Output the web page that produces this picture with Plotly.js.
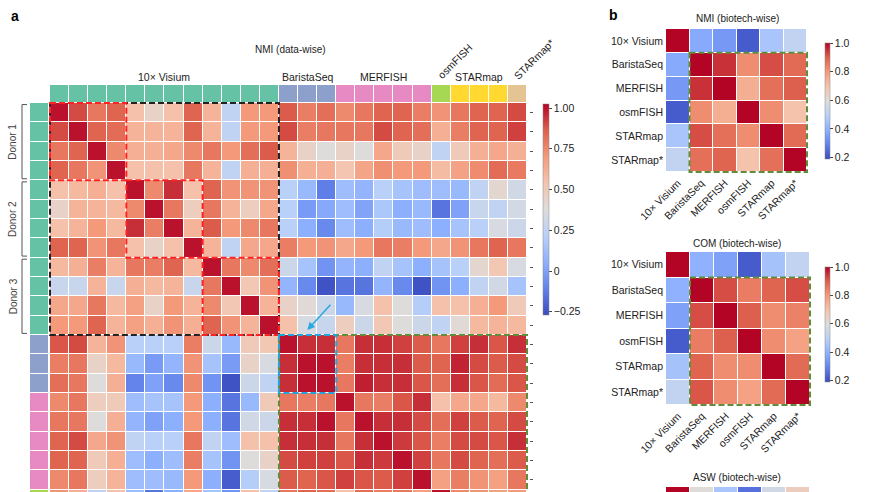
<!DOCTYPE html>
<html><head><meta charset="utf-8">
<script src="https://cdn.plot.ly/plotly-3.0.1.min.js"></script>
<style>html,body{margin:0;padding:0;background:#fff}#chart{width:870px;height:492px}</style>
</head><body><div id="chart"></div>
<script>
// ---------- DATA ----------
const techs = ['10× Visium','BaristaSeq','MERFISH','osmFISH','STARmap','STARmap*'];
const techColors = ['#66c2a5','#8da0cb','#e78ac3','#a6d854','#ffd92f','#e5c494'];
// technology index of each sample (columns of panel a)
const colTech = [0,0,0,0,0,0,0,0,0,0,0,0, 1,1,1, 2,2,2,2,2, 3, 4,4,4, 5];
// rows visible in panel a (the figure is cut at the bottom)
const rowTech = [0,0,0,0,0,0,0,0,0,0,0,0, 1,1,1, 2,2,2,2,2, 3];
const donors = ['Donor 1','Donor 2','Donor 3'];
const groupLabels = ['10× Visium','BaristaSeq','MERFISH','STARmap'];
const groupCenters = [5.5, 13, 17, 22];

const nmiDataWise = [
 [1.00,0.90,0.80,0.85,0.55,0.45,0.55,0.85,0.60,0.25,0.70,0.70, 0.87,0.78,0.82,0.75,0.80,0.85,0.85,0.78,0.72,0.80,0.85,0.85,0.90],
 [0.90,1.00,0.85,0.83,0.60,0.60,0.60,0.85,0.60,0.25,0.70,0.70, 0.90,0.78,0.80,0.80,0.80,0.90,0.85,0.82,0.62,0.78,0.85,0.85,0.92],
 [0.80,0.85,1.00,0.75,0.62,0.62,0.65,0.75,0.80,0.70,0.82,0.87, 0.60,0.45,0.38,0.45,0.38,0.65,0.50,0.45,0.25,0.50,0.62,0.65,0.62],
 [0.85,0.80,0.72,1.00,0.55,0.55,0.55,0.80,0.60,0.25,0.62,0.62, 0.73,0.62,0.62,0.53,0.66,0.73,0.70,0.70,0.57,0.67,0.74,0.83,0.79],
 [0.55,0.58,0.62,0.55,1.00,0.75,0.95,0.55,0.85,0.72,0.72,0.72, 0.22,0.10,-0.12,0.12,0.08,0.22,0.15,0.12,0.12,0.10,0.25,0.42,0.32],
 [0.45,0.60,0.60,0.58,0.75,1.00,0.80,0.48,0.80,0.60,0.48,0.65, 0.22,-0.02,0.03,0.12,0.01,0.17,0.05,0.10,-0.15,0.00,0.28,0.25,0.33],
 [0.55,0.60,0.70,0.58,0.95,0.78,1.00,0.60,0.87,0.70,0.75,0.80, 0.22,0.05,-0.08,0.12,0.05,0.20,0.10,0.12,0.05,0.15,0.22,0.35,0.30],
 [0.85,0.85,0.72,0.80,0.55,0.45,0.55,1.00,0.60,0.25,0.65,0.65, 0.78,0.70,0.72,0.65,0.70,0.80,0.78,0.70,0.65,0.72,0.80,0.85,0.80],
 [0.58,0.62,0.78,0.60,0.80,0.78,0.85,0.58,1.00,0.80,0.75,0.82, 0.30,0.15,-0.05,0.08,0.05,0.25,0.15,0.05,0.15,0.22,0.42,0.52,0.35],
 [0.28,0.28,0.60,0.28,0.62,0.58,0.60,0.28,0.80,1.00,0.52,0.72, 0.08,-0.08,-0.25,-0.15,-0.15,0.08,-0.08,-0.25,-0.05,0.05,0.25,0.32,0.15],
 [0.65,0.65,0.80,0.58,0.68,0.45,0.70,0.60,0.75,0.52,1.00,0.60, 0.45,0.40,0.30,0.10,0.35,0.55,0.38,0.20,0.55,0.55,0.62,0.70,0.50],
 [0.70,0.70,0.85,0.60,0.68,0.62,0.72,0.62,0.85,0.72,0.60,1.00, 0.55,0.35,0.28,0.48,0.30,0.52,0.38,0.30,0.25,0.40,0.58,0.60,0.58],
 [0.88,0.90,0.60,0.72,0.22,0.22,0.22,0.78,0.30,0.10,0.50,0.52, 1.00,0.95,0.95,0.80,0.95,0.95,0.92,0.87,0.80,0.92,0.95,0.88,0.95],
 [0.78,0.80,0.45,0.58,0.10,-0.02,0.08,0.72,0.15,-0.02,0.45,0.35, 0.95,1.00,1.00,0.78,0.95,0.95,0.95,0.87,0.85,0.97,0.90,0.87,0.90],
 [0.82,0.80,0.38,0.62,-0.10,0.00,-0.08,0.75,-0.05,-0.25,0.30,0.25, 0.95,1.00,1.00,0.80,0.98,0.95,0.95,0.88,0.82,0.95,0.88,0.83,0.88],
 [0.75,0.80,0.48,0.50,0.12,0.15,0.15,0.70,0.05,-0.15,0.10,0.50, 0.80,0.78,0.80,1.00,0.80,0.78,0.88,0.95,0.55,0.65,0.65,0.58,0.75],
 [0.80,0.80,0.38,0.62,0.08,0.00,0.05,0.70,0.05,-0.15,0.32,0.30, 0.95,0.95,1.00,0.80,1.00,0.95,0.95,0.90,0.82,0.92,0.87,0.85,0.90],
 [0.85,0.90,0.65,0.72,0.25,0.22,0.22,0.80,0.25,0.12,0.55,0.55, 0.95,0.95,0.95,0.80,0.95,1.00,0.93,0.88,0.78,0.90,0.90,0.88,0.95],
 [0.85,0.85,0.50,0.62,0.12,0.05,0.12,0.78,0.15,-0.05,0.38,0.45, 0.90,0.92,0.92,0.88,0.95,0.93,1.00,0.92,0.80,0.90,0.85,0.82,0.87],
 [0.75,0.80,0.48,0.60,0.12,0.12,0.10,0.70,0.05,-0.22,0.20,0.35, 0.87,0.85,0.88,0.92,0.88,0.87,0.92,1.00,0.68,0.78,0.72,0.68,0.80],
 [0.72,0.62,0.25,0.55,0.12,-0.15,0.05,0.65,0.15,-0.05,0.55,0.25, 0.80,0.85,0.82,0.55,0.82,0.78,0.80,0.68,1.00,0.75,0.72,0.68,0.70]
];

const nmiBiotech = [
 [1.00,0.38,0.34,0.22,0.46,0.52],
 [0.38,1.00,0.95,0.82,0.92,0.88],
 [0.34,0.95,1.00,0.75,0.87,0.90],
 [0.22,0.82,0.75,1.00,0.82,0.70],
 [0.46,0.92,0.87,0.82,1.00,0.88],
 [0.52,0.87,0.89,0.70,0.87,1.00]
];
const comBiotech = [
 [1.00,0.40,0.36,0.22,0.45,0.52],
 [0.40,1.00,0.92,0.85,0.89,0.92],
 [0.36,0.92,1.00,0.90,0.82,0.84],
 [0.22,0.85,0.90,1.00,0.82,0.78],
 [0.45,0.89,0.82,0.82,1.00,0.88],
 [0.52,0.91,0.82,0.78,0.88,1.00]
];
const aswBiotechTopRow = [1.00,0.60,0.46,0.26,0.56,0.66];

// ---------- STYLE ----------
const W = 870, H = 492;
const px = v => v / W, py = v => 1 - v / H;
const FONT = 'Liberation Sans, Arial, Helvetica, sans-serif';
const coolwarm = [[0,'#3b4cc0'],[0.125,'#6282ea'],[0.25,'#8db0fe'],[0.375,'#b8d0f9'],[0.5,'#dddcdb'],[0.625,'#f5c4ad'],[0.75,'#f49a7b'],[0.875,'#de604d'],[1,'#b40426']];
const catScale = [];
techColors.forEach((c,i)=>{ const a=Math.max(0,(i-0.5)/5), b=Math.min(1,(i+0.5)/5); catScale.push([a,c]); catScale.push([b,c]); });

const idx = n => Array.from({length:n},(_,i)=>i);
const nCols = colTech.length, nRows = rowTech.length;

// main geometry (cell size in px)
const cw = 19.08, ch = 19.33, x0px = 50, y0px = 103;
const mainXRange = [(48-x0px)/cw-0.5, (529-x0px)/cw-0.5];
const mainYRange = [(492-y0px)/ch-0.5, (101-y0px)/ch-0.5];

const hidden = {showgrid:false, zeroline:false, showticklabels:false, ticks:'', showline:false, fixedrange:true};

const traces = [
 {type:'heatmap', z:nmiDataWise, x:idx(nCols), y:idx(nRows), xaxis:'x', yaxis:'y',
  colorscale:coolwarm, zmin:-0.27, zmax:1.025, xgap:1, ygap:1, hoverinfo:'skip',
  colorbar:{x:px(543), xanchor:'left', y:py(104), yanchor:'top', len:211, lenmode:'pixels',
    thickness:6, xpad:0, ypad:0, outlinewidth:0.5, outlinecolor:'#888',
    tickvals:[1,0.75,0.5,0.25,0,-0.25], ticktext:['1.00','0.75','0.50','0.25','0','−0.25'],
    ticks:'outside', ticklen:3, tickcolor:'#444', tickfont:{size:10.5, color:'#222', family:FONT}}},
 {type:'heatmap', z:[colTech], x:idx(nCols), y:[0], xaxis:'x2', yaxis:'y2',
  colorscale:catScale, zmin:0, zmax:5, showscale:false, xgap:1, ygap:0, hoverinfo:'skip'},
 {type:'heatmap', z:rowTech.map(t=>[t]), x:[0], y:idx(nRows), xaxis:'x3', yaxis:'y3',
  colorscale:catScale, zmin:0, zmax:5, showscale:false, xgap:0, ygap:1, hoverinfo:'skip'},
 {type:'heatmap', z:nmiBiotech, x:idx(6), y:idx(6), xaxis:'x4', yaxis:'y4',
  colorscale:coolwarm, zmin:0.19, zmax:1.0, xgap:1, ygap:1, hoverinfo:'skip',
  colorbar:{x:px(825), xanchor:'left', y:py(43), yanchor:'top', len:116, lenmode:'pixels',
    thickness:5, xpad:0, ypad:0, outlinewidth:0.5, outlinecolor:'#888',
    tickvals:[0.2,0.4,0.6,0.8,1.0], ticktext:['0.2','0.4','0.6','0.8','1.0'],
    ticks:'outside', ticklen:3, tickcolor:'#444', tickfont:{size:10.5, color:'#222', family:FONT}}},
 {type:'heatmap', z:comBiotech, x:idx(6), y:idx(6), xaxis:'x5', yaxis:'y5',
  colorscale:coolwarm, zmin:0.19, zmax:1.0, xgap:1, ygap:1, hoverinfo:'skip',
  colorbar:{x:px(825), xanchor:'left', y:py(267), yanchor:'top', len:115, lenmode:'pixels',
    thickness:5, xpad:0, ypad:0, outlinewidth:0.5, outlinecolor:'#888',
    tickvals:[0.2,0.4,0.6,0.8,1.0], ticktext:['0.2','0.4','0.6','0.8','1.0'],
    ticks:'outside', ticklen:3, tickcolor:'#444', tickfont:{size:10.5, color:'#222', family:FONT}}},
 {type:'heatmap', z:[aswBiotechTopRow], x:idx(6), y:[0], xaxis:'x6', yaxis:'y6',
  colorscale:coolwarm, zmin:0.19, zmax:1.0, xgap:1, ygap:1, showscale:false, hoverinfo:'skip'}
];

const bcw = 23.5, bch = 23.8; // panel b NMI cell size
const ccw = 24, cch = 25.5;   // panel b COM cell size
const bTick = {tickvals:idx(6), ticktext:techs, ticks:'', showgrid:false, zeroline:false, showline:false,
  tickfont:{size:10.5, color:'#222', family:FONT}, fixedrange:true};

const layout = {
 width:W, height:H, margin:{l:0,r:0,t:0,b:0}, autosize:false,
 paper_bgcolor:'#fff', plot_bgcolor:'rgba(0,0,0,0)', font:{family:FONT, color:'#222'},
 showlegend:false,
 xaxis:Object.assign({}, hidden, {domain:[px(48),px(529)], range:mainXRange, anchor:'y'}),
 yaxis:Object.assign({}, hidden, {domain:[0,py(101)], range:mainYRange, anchor:'x', side:'right',
   ticks:'outside', ticklen:3, tickcolor:'#555', tickvals:idx(nRows)}),
 xaxis2:Object.assign({}, hidden, {domain:[px(48),px(529)], range:mainXRange, anchor:'y2'}),
 yaxis2:Object.assign({}, hidden, {domain:[py(102),py(85)], range:[0.5,-0.5], anchor:'x2'}),
 xaxis3:Object.assign({}, hidden, {domain:[px(30),px(48)], range:[-0.5,0.5], anchor:'y3'}),
 yaxis3:Object.assign({}, hidden, {domain:[0,py(101)], range:mainYRange, anchor:'x3'}),
 xaxis4:Object.assign({}, bTick, {domain:[px(664),px(809)], range:[-0.5-2/bcw,5.5+2/bcw], anchor:'y4', tickangle:-45}),
 yaxis4:Object.assign({}, bTick, {domain:[py(174),py(27)], range:[5.5+2/bch,-0.5-2/bch], anchor:'x4'}),
 xaxis5:Object.assign({}, bTick, {domain:[px(664),px(812)], range:[-0.5-2/ccw,5.5+2/ccw], anchor:'y5', tickangle:-45}),
 yaxis5:Object.assign({}, bTick, {domain:[py(407),py(250)], range:[5.5+2/cch,-0.5-2/cch], anchor:'x5'}),
 xaxis6:Object.assign({}, hidden, {domain:[px(664),px(812)], range:[-0.5-2/ccw,5.5+2/ccw], anchor:'y6'}),
 yaxis6:Object.assign({}, hidden, {domain:[0,py(487)], range:[-0.3,-0.5], anchor:'x6'}),
 shapes:[], annotations:[]
};

const dash = '6px,3px';
const rect = (xr,yr,x0,x1,y0,y1,color) => ({type:'rect', xref:xr, yref:yr, x0, x1, y0, y1,
  line:{color, width:2, dash}, fillcolor:'rgba(0,0,0,0)', layer:'above'});
layout.shapes.push(rect('x','y',-0.5,11.5,-0.5,11.5,'#222222'));
[[-0.5,3.5],[3.5,7.5],[7.5,11.5]].forEach(([a,b])=>layout.shapes.push(rect('x','y',a,b,a,b,'#ff2222')));
layout.shapes.push(rect('x','y',11.5,24.5,11.5,24.5,'#5f8d3a'));
layout.shapes.push(rect('x','y',11.5,14.5,11.5,14.5,'#1ea5dc'));
layout.shapes.push(rect('x4','y4',0.5,5.5,0.5,5.5,'#5f8d3a'));
layout.shapes.push(rect('x5','y5',0.5,5.5,0.5,5.5,'#5f8d3a'));

// donor brackets
[[-0.42,3.42],[3.58,7.42],[7.58,11.42]].forEach(([a,b])=>{
  layout.shapes.push({type:'path', xref:'paper', yref:'y',
    path:`M ${px(27)},${a} L ${px(22)},${a} L ${px(22)},${b} L ${px(27)},${b}`,
    line:{color:'#555', width:1}});
});

const ann = (o) => layout.annotations.push(Object.assign({showarrow:false, font:{size:10.5, color:'#222', family:FONT}}, o));
ann({text:'<b>a</b>', xref:'paper', yref:'paper', x:px(9), y:py(16), xanchor:'left', yanchor:'middle', font:{size:14, color:'#000', family:FONT}});
ann({text:'<b>b</b>', xref:'paper', yref:'paper', x:px(607), y:py(15), xanchor:'left', yanchor:'middle', font:{size:14, color:'#000', family:FONT}});
ann({text:'NMI (data-wise)', xref:'paper', yref:'paper', x:px(290), y:py(50), xanchor:'center', yanchor:'middle', font:{size:10, color:'#222', family:FONT}});
groupLabels.forEach((t,i)=>ann({text:t, xref:'x', yref:'paper', x:groupCenters[i], y:py(77), xanchor:'center', yanchor:'middle'}));
ann({text:'osmFISH', xref:'paper', yref:'paper', x:px(455), y:py(61), xanchor:'center', yanchor:'middle', textangle:-45});
ann({text:'STARmap*', xref:'paper', yref:'paper', x:px(534), y:py(59), xanchor:'center', yanchor:'middle', textangle:-45});
donors.forEach((d,i)=>ann({text:d, xref:'paper', yref:'y', x:px(13), y:1.5+4*i, xanchor:'center', yanchor:'middle', textangle:-90, font:{size:10, color:'#444', family:FONT}}));
ann({text:'NMI (biotech-wise)', xref:'paper', yref:'paper', x:px(737), y:py(19), xanchor:'center', yanchor:'middle', font:{size:10, color:'#222', family:FONT}});
ann({text:'COM (biotech-wise)', xref:'paper', yref:'paper', x:px(737), y:py(243), xanchor:'center', yanchor:'middle', font:{size:10, color:'#222', family:FONT}});
ann({text:'ASW (biotech-wise)', xref:'paper', yref:'paper', x:px(737), y:py(477), xanchor:'center', yanchor:'middle', font:{size:10, color:'#222', family:FONT}});
// arrow pointing at the BaristaSeq block
layout.annotations.push({text:'', xref:'x', yref:'y', x:12.99, y:11.24, axref:'x', ayref:'y', ax:14.27, ay:9.86,
  showarrow:true, arrowhead:2, arrowsize:1, arrowwidth:1.5, arrowcolor:'#29a9e1'});

Plotly.newPlot('chart', traces, layout, {staticPlot:true, displayModeBar:false});
</script>
</body></html>
